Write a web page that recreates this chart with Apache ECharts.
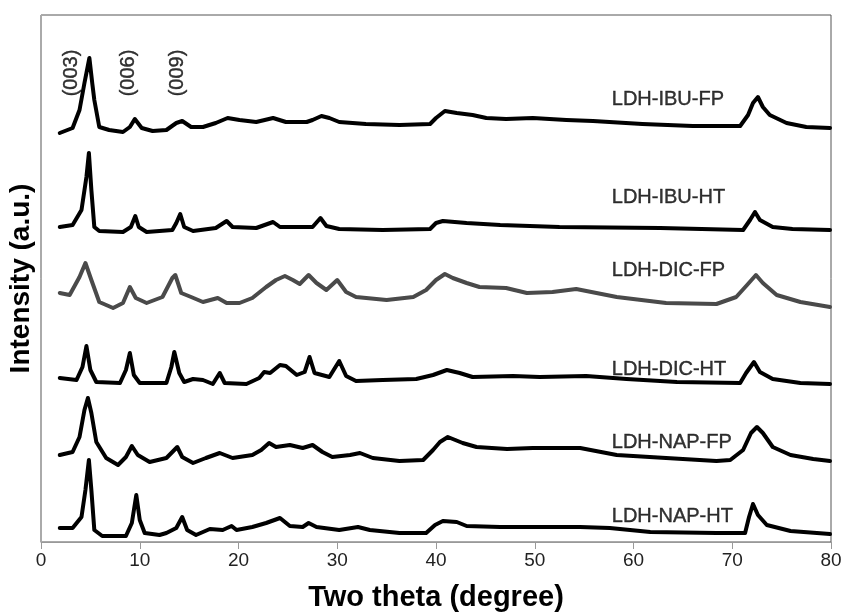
<!DOCTYPE html>
<html>
<head>
<meta charset="utf-8">
<script src="https://cdn.jsdelivr.net/npm/echarts@6/dist/echarts.min.js"></script>
<style>
html,body{margin:0;padding:0;background:#fff;}
#chart{width:843px;height:613px;}
</style>
</head>
<body>
<div id="chart"></div>
<script>
// Two-theta (degree) / offset intensity (a.u.) pairs
const ibuFP = [[1.9,409],[3.2,414],[3.9,432],[4.4,459],[4.9,484],[5.2,458],[5.4,442],[5.9,415],[6.9,412],[8.3,410],[9.0,415],[9.5,423],[10.2,414],[11.3,411],[12.7,412],[13.7,419],[14.3,421],[15.2,415],[16.4,415],[17.7,419],[18.9,424],[20.1,422],[21.8,420],[23.5,424],[24.8,420],[26.9,420],[27.5,422],[28.4,426],[29.2,424],[30.2,420],[32.9,418],[36.3,417],[39.4,418],[40.0,424],[40.9,431],[42.1,429],[43.7,427],[45.1,424],[47.1,423],[49.8,424],[53.2,422],[55.9,421],[60.9,418],[66.0,416],[70.8,416],[71.6,427],[72.1,439],[72.6,445],[73.1,435],[73.8,427],[75.5,419],[77.5,415],[79.9,414]];
const ibuHT = [[1.9,315],[3.2,317],[4.1,332],[4.6,365],[4.85,389],[5.1,352],[5.4,315],[5.9,311],[8.3,310],[9.1,315],[9.55,326],[9.9,315],[10.7,310],[13.3,312],[13.7,319],[14.1,328],[14.5,315],[15.4,311],[17.7,314],[18.8,321],[19.4,315],[21.8,314],[23.5,320],[24.2,315],[26.9,315],[27.5,315],[28.3,324],[28.9,316],[30.2,313],[34.6,312],[39.4,313],[40.0,319],[40.7,321],[43.1,319],[46.5,317],[52.5,315],[62.7,314],[71.1,312],[71.8,322],[72.3,330],[72.8,322],[74.1,315],[76.1,313],[79.9,312]];
const dicFP = [[1.9,249],[2.9,247],[3.9,265],[4.5,279],[5.1,262],[5.9,240],[7.3,234],[8.3,239],[9.0,255],[9.6,244],[10.7,239],[12.3,245],[13.3,264],[13.6,267],[14.2,249],[15.2,245],[16.4,240],[17.9,244],[18.8,239],[20.1,239],[21.4,244],[22.8,255],[23.8,262],[24.7,266],[25.5,262],[26.2,258],[27.1,267],[27.9,259],[28.9,252],[30.0,262],[30.9,250],[31.9,245],[35.0,242],[37.7,245],[39.0,252],[40.0,262],[40.9,268],[41.7,264],[43.1,259],[44.4,255],[47.1,254],[49.2,249],[51.8,250],[54.2,253],[58.3,245],[63.3,239],[68.4,238],[70.4,245],[71.5,257],[72.4,267],[73.1,259],[74.5,247],[76.9,240],[79.9,235]];
const dicHT = [[1.9,164],[3.6,162],[4.2,175],[4.6,196],[5.0,172],[5.6,160],[8.0,159],[8.6,172],[9.0,189],[9.4,167],[10.0,159],[12.7,159],[13.2,175],[13.5,190],[14.0,169],[14.5,160],[15.4,163],[16.4,162],[17.4,158],[18.1,169],[18.6,159],[20.8,158],[22.1,164],[22.6,170],[23.2,169],[24.2,177],[24.8,176],[25.9,167],[26.7,170],[27.2,185],[27.7,169],[29.2,165],[30.2,181],[30.9,166],[31.9,161],[34.6,162],[38.0,163],[39.7,167],[41.1,172],[42.4,169],[43.7,165],[47.8,166],[50.5,165],[55.2,166],[59.3,163],[64.4,160],[70.8,159],[71.4,169],[72.2,180],[72.8,170],[74.1,163],[76.9,159],[79.9,158]];
const napFP = [[1.9,87],[3.2,90],[3.9,105],[4.4,132],[4.75,144],[5.1,129],[5.6,100],[6.6,84],[7.8,77],[8.6,85],[9.2,96],[9.8,87],[11.0,80],[12.7,84],[13.5,92],[13.8,95],[14.3,85],[15.4,79],[16.7,84],[18.1,89],[19.4,84],[21.4,87],[22.3,92],[23.1,99],[23.8,95],[25.2,97],[26.5,94],[27.5,97],[28.5,90],[29.5,85],[31.3,87],[32.3,89],[33.6,84],[36.3,81],[38.7,82],[39.7,92],[40.4,100],[41.2,105],[42.7,99],[44.1,95],[47.2,93],[49.8,94],[54.6,94],[58.3,87],[63.3,84],[68.4,81],[69.8,82],[71.1,92],[71.9,109],[72.5,115],[73.1,109],[74.1,95],[75.9,87],[78.2,83],[79.9,81]];
const napHT = [[1.9,14],[3.2,14],[4.1,25],[4.5,52],[4.85,82],[5.1,52],[5.4,12],[6.2,6],[8.6,6],[9.2,19],[9.65,47],[10.0,22],[10.5,9],[12.0,7],[12.7,9],[13.7,14],[14.3,25],[14.8,12],[15.7,7],[17.1,13],[18.4,12],[19.3,16],[19.8,12],[21.4,15],[22.8,19],[24.2,24],[25.2,16],[26.5,15],[27.1,19],[27.9,15],[30.2,12],[32.1,15],[33.3,12],[36.3,9],[39.0,9],[39.9,17],[40.7,21],[42.1,20],[43.1,16],[46.5,15],[49.8,15],[54.6,15],[57.6,14],[61.7,10],[68.4,9],[71.3,9],[71.7,25],[72.1,38],[72.6,27],[73.5,17],[75.9,11],[79.9,8]];

const seriesNames = ['LDH-IBU-FP','LDH-IBU-HT','LDH-DIC-FP','LDH-DIC-HT','LDH-NAP-FP','LDH-NAP-HT'];
const seriesColors = ['#000000','#000000','#4a4a4a','#000000','#000000','#000000'];
const seriesLabelPos = [[57.8,443],[57.8,345],[57.8,272],[57.8,173],[57.8,100],[57.8,26]];
const peakLabels = ['(003)','(006)','(009)'];
const peakLabelPos = [[3.1,469],[8.9,469],[13.8,469]];
const xTicks = [0,10,20,30,40,50,60,70,80];

const allData = [ibuFP, ibuHT, dicFP, dicHT, napFP, napHT];
const FONT = 'Arial, "Liberation Sans", sans-serif';

const chart = echarts.init(document.getElementById('chart'), null, {renderer:'canvas'});
const series = allData.map((d, i) => ({
  type: 'line', name: seriesNames[i], data: d, showSymbol: false, symbol: 'none',
  lineStyle: {color: seriesColors[i], width: 4, join: 'round', cap: 'round'}, silent: true, animation: false, z: 3
}));
series.push({
  type: 'scatter', symbolSize: 0, silent: true, animation: false, z: 5,
  data: seriesLabelPos.map((p, i) => [p[0], p[1], seriesNames[i]]),
  label: {show: true, position: 'inside', align: 'left', verticalAlign: 'middle',
    formatter: p => p.data[2], color: '#000', fontSize: 20, fontFamily: FONT,
    textBorderColor: '#000', textBorderWidth: 0.4}
});
series.push({
  type: 'scatter', symbolSize: 0, silent: true, animation: false, z: 5,
  data: peakLabelPos.map((p, i) => [p[0], p[1], peakLabels[i]]),
  label: {show: true, position: 'inside', rotate: 90, align: 'center', verticalAlign: 'middle',
    formatter: p => p.data[2], color: '#000', fontSize: 20, fontFamily: FONT,
    textBorderColor: '#000', textBorderWidth: 0.4}
});

chart.setOption({
  animation: false,
  backgroundColor: '#fff',
  grid: {left: 41, right: 12, top: 15, bottom: 71, show: true, borderColor: '#555', borderWidth: 1,
    containLabel: false, outerBoundsMode: 'none'},
  xAxis: {
    type: 'value', min: xTicks[0], max: xTicks[xTicks.length-1], interval: 10,
    name: 'Two theta (degree)', nameLocation: 'middle', nameGap: 41,
    nameTextStyle: {fontSize: 29, fontWeight: 'bold', color: '#000', fontFamily: FONT},
    axisLine: {show: true, lineStyle: {color: '#999', width: 1}},
    axisTick: {show: true, inside: false, length: 7, lineStyle: {color: '#999'}},
    axisLabel: {fontSize: 19, color: '#222', fontFamily: FONT, margin: 9},
    splitLine: {show: false}
  },
  yAxis: {
    type: 'value', min: 0, max: 527,
    name: 'Intensity (a.u.)', nameLocation: 'middle', nameGap: 6, nameRotate: 90,
    nameTextStyle: {fontSize: 28, fontWeight: 'bold', color: '#000', fontFamily: FONT},
    axisLine: {show: true, lineStyle: {color: '#aaa', width: 1}},
    axisTick: {show: false}, axisLabel: {show: false}, splitLine: {show: false}
  },
  series: series
});
</script>
</body>
</html>
